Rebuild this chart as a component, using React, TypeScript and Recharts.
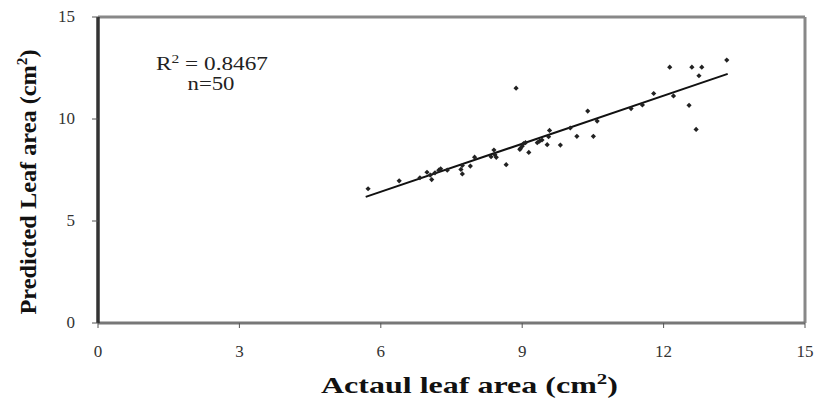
import React from 'react';
import { ScatterChart, Scatter, XAxis, YAxis, ReferenceLine } from 'recharts';

const actualArea = [5.73, 6.39, 6.83, 6.98, 7.08, 7.05, 7.15, 7.23, 7.27, 7.41, 7.70, 7.73, 7.73, 7.90, 7.99, 8.34, 8.40, 8.42, 8.45, 8.66, 8.87, 8.95, 8.96, 9.00, 9.03, 9.07, 9.14, 9.32, 9.37, 9.42, 9.53, 9.56, 9.58, 9.81, 10.02, 10.16, 10.39, 10.51, 10.59, 11.31, 11.55, 11.79, 12.13, 12.21, 12.54, 12.60, 12.69, 12.75, 12.81, 13.34];
const predictedArea = [6.58, 6.97, 7.12, 7.39, 7.03, 7.25, 7.36, 7.49, 7.56, 7.49, 7.53, 7.72, 7.31, 7.69, 8.13, 8.15, 8.48, 8.25, 8.12, 7.76, 11.51, 8.51, 8.55, 8.67, 8.80, 8.84, 8.36, 8.84, 8.92, 8.97, 8.74, 9.13, 9.44, 8.72, 9.56, 9.15, 10.39, 9.15, 9.90, 10.51, 10.69, 11.25, 12.54, 11.13, 10.67, 12.54, 9.49, 12.12, 12.54, 12.89];
const fitX = [5.68, 13.36];
const fitY = [6.18, 12.21];
const xTicks = [0, 3, 6, 9, 12, 15];
const yTicks = [0, 5, 10, 15];

const points = actualArea.map((x, i) => ({ x, y: predictedArea[i] }));
const fitLine = fitX.map((x, i) => ({ x, y: fitY[i] }));

const serif = "Liberation Serif";

const Dot = (props: any) => {
  const { cx, cy } = props;
  const r = 2.6;
  return <path d={`M${cx},${cy - r}L${cx + r},${cy}L${cx},${cy + r}L${cx - r},${cy}Z`} fill="#222" />;
};

const XTick = (props: any) => {
  const { x, y, payload } = props;
  return (
    <text x={x} y={y} dy={11} textAnchor="middle" style={{ fontFamily: serif, fontSize: 17 }} fill="#333">
      {payload.value}
    </text>
  );
};

const YTick = (props: any) => {
  const { x, y, payload } = props;
  return (
    <text x={x} y={y} dy={5} textAnchor="end" style={{ fontFamily: serif, fontSize: 17 }} fill="#333">
      {payload.value}
    </text>
  );
};

const XTitle = (props: any) => {
  const vb = props.viewBox || { x: 98, y: 323, width: 707, height: 76 };
  return (
    <text x={vb.x + vb.width / 2 + 18} y={393} textAnchor="middle" style={{ fontFamily: serif, fontWeight: 'bold', fontSize: 23 }} fill="#111" textLength={297} lengthAdjust="spacingAndGlyphs">
      Actaul leaf area (cm<tspan fontSize={15} dy={-9}>2</tspan><tspan dy={9}>)</tspan>
    </text>
  );
};

const YTitle = () => {
  const cx = 36;
  const cy = 182;
  return (
    <text x={cx} y={cy} transform={`rotate(-90 ${cx} ${cy})`} textAnchor="middle" style={{ fontFamily: serif, fontWeight: 'bold', fontSize: 24 }} fill="#111" textLength={265} lengthAdjust="spacingAndGlyphs">
      Predicted Leaf area (cm<tspan fontSize={15} dy={-9}>2</tspan><tspan dy={9}>)</tspan>
    </text>
  );
};

const Annotation = () => (
  <g>
    <text x={212} y={70} textAnchor="middle" style={{ fontFamily: serif, fontSize: 18 }} fill="#222" textLength={112} lengthAdjust="spacingAndGlyphs">
      R<tspan fontSize={12} dy={-7}>2</tspan><tspan dy={7}> = 0.8467</tspan>
    </text>
    <text x={211} y={90} textAnchor="middle" style={{ fontFamily: serif, fontSize: 18 }} fill="#222" textLength={47} lengthAdjust="spacingAndGlyphs">n=50</text>
  </g>
);

export default function App() {
  return (
    <div style={{ position: 'absolute', left: 0, top: 0, width: 814, height: 399, background: '#fff' }}>
      <ScatterChart width={814} height={399} margin={{ top: 17, right: 9, bottom: 0, left: 1 }}>
        <XAxis
          type="number"
          dataKey="x"
          domain={[0, 15]}
          ticks={xTicks}
          height={76}
          tickSize={5}
          tickMargin={18}
          axisLine={{ stroke: '#777', strokeWidth: 3 }}
          tickLine={{ stroke: '#555' }}
          tick={<XTick />}
          label={{ content: (p: any) => <XTitle {...p} /> }}
        />
        <YAxis
          type="number"
          dataKey="y"
          domain={[0, 15]}
          ticks={yTicks}
          width={97}
          tickSize={6}
          tickMargin={17}
          axisLine={{ stroke: '#333', strokeWidth: 3.5 }}
          tickLine={{ stroke: '#555' }}
          tick={<YTick />}
          label={{ content: () => <YTitle /> }}
        />
        <ReferenceLine y={15} stroke="#888" strokeWidth={3} />
        <ReferenceLine x={15} stroke="#888" strokeWidth={3} />
        <Scatter data={fitLine} line={{ stroke: '#111', strokeWidth: 2 }} shape={() => <g />} isAnimationActive={false} />
        <Scatter data={points} shape={<Dot />} isAnimationActive={false} />
        <ReferenceLine y={15} stroke="none" label={{ content: () => <Annotation /> }} />
      </ScatterChart>
    </div>
  );
}
